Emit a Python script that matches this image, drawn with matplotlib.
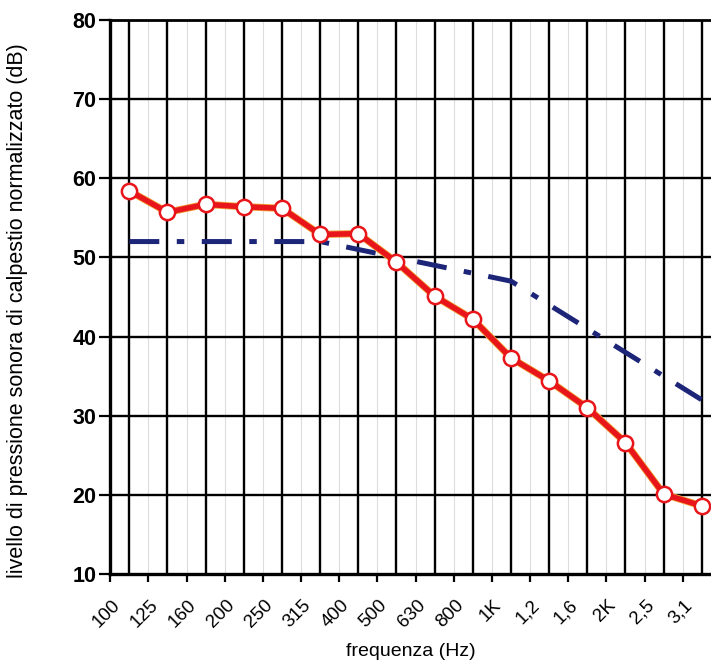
import matplotlib.pyplot as plt
import matplotlib.transforms as mtransforms

# frequency bands (1/3 octave) as labelled on the chart
bands = ['100', '125', '160', '200', '250', '315', '400', '500', '630', '800',
         '1K', '1,2', '1,6', '2K', '2,5', '3,1']

# measured normalised impact sound level (dB)
measured = [58.4, 55.7, 56.7, 56.4, 56.2, 52.9, 53.0, 49.4, 45.1, 42.2,
            37.3, 34.4, 31.0, 26.6, 20.1, 18.6]

# shifted reference curve (dB)
reference = [52, 52, 52, 52, 52, 52, 51, 50, 49, 48, 47, 44, 41, 38, 35, 32]

plt.rcParams['font.family'] = ['Liberation Sans', 'DejaVu Sans']

fig = plt.figure(figsize=(7.11, 6.64), dpi=100)
ax = fig.add_axes([0.155, 0.1355, 0.845, 0.8345])

x = list(range(len(bands)))

ax.plot(x, reference, color='#1c2577', lw=3.6, linestyle=(0, (6, 3.5, 1.5, 3.5)),
        zorder=3)
ax.plot(x, measured, color='#f2a33a', lw=5.2, zorder=4)
ax.plot(x, measured, color='#e8161a', lw=4.0, zorder=5,
        marker='o', markersize=11, markerfacecolor='white',
        markeredgecolor='#e8161a', markeredgewidth=1.8)

ax.set_xlim(-0.5, 15.24)
ax.set_ylim(10, 80)

# grid: black lines at the band centres and every 10 dB
for xi in x:
    ax.axvline(xi, color='black', lw=1.7, zorder=1)
for xb in [i + 0.5 for i in x]:
    ax.axvline(xb, color='#dddddd', lw=0.8, zorder=0)
for yv in range(20, 80, 10):
    ax.axhline(yv, color='black', lw=1.7, zorder=1)

ax.set_yticks(range(10, 81, 10))
ax.tick_params(axis='y', length=8, width=1.6, labelsize=15.5, pad=2)
for lab in ax.get_yticklabels():
    lab.set_fontweight('bold')

# ticks between bands, labels at band centres
ax.set_xticks([i - 0.5 for i in x], minor=True)
ax.set_xticks(x)
ax.set_xticklabels(bands, rotation=45, ha='right', fontsize=13.5)
ax.tick_params(axis='x', which='major', length=0, pad=16)
ax.tick_params(axis='x', which='minor', length=6, width=1.6)
offset = mtransforms.ScaledTranslation(-6 / 100, 0, fig.dpi_scale_trans)
for lab in ax.get_xticklabels():
    lab.set_transform(lab.get_transform() + offset)

ax.spines['right'].set_visible(False)
ax.spines['left'].set_linewidth(2.4)
ax.spines['bottom'].set_linewidth(2.4)
ax.spines['top'].set_linewidth(2.0)

ax.set_ylabel('livello di pressione sonora di calpestio normalizzato (dB)',
              fontsize=15.5)
ax.yaxis.set_label_coords(-0.136, 0.475)
ax.set_xlabel('frequenza (Hz)', fontsize=14)
ax.xaxis.set_label_coords(0.5, -0.125)

fig.savefig('out.png', dpi=100)
